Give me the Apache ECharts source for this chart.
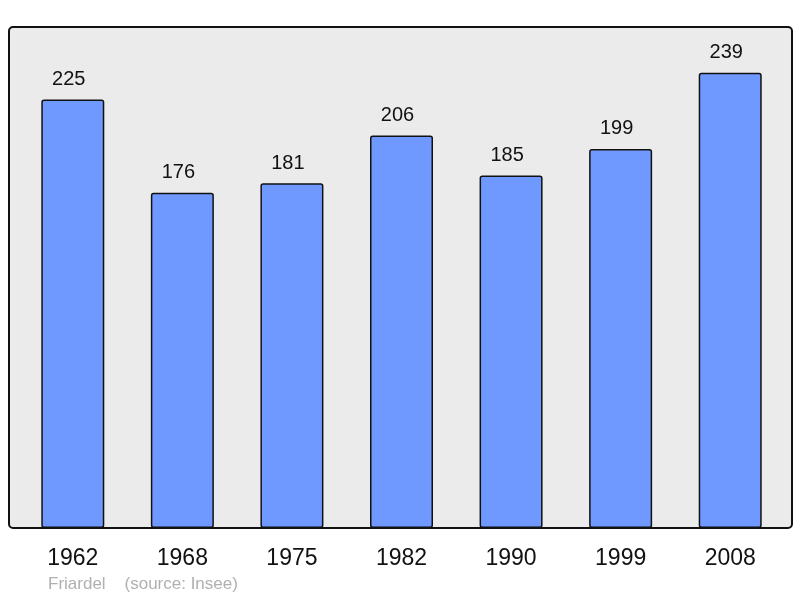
<!DOCTYPE html>
<html>
<head>
<meta charset="utf-8">
<script src="https://cdn.jsdelivr.net/npm/echarts@6/dist/echarts.min.js"></script>
<style>
  html, body { margin: 0; padding: 0; background: #fff; }
  #chart { width: 800px; height: 598px; }
</style>
</head>
<body>
<div id="chart"></div>
<script>
  // population by census year
  const years = ['1962', '1968', '1975', '1982', '1990', '1999', '2008'];
  const population = [225, 176, 181, 206, 185, 199, 239];
  const footer = 'Friardel    (source: Insee)';

  const myChart = echarts.init(document.getElementById('chart'));

  const option = {
    animation: false,
    textStyle: { fontFamily: 'Liberation Sans, Arial, sans-serif' },
    graphic: [
      {
        type: 'rect',
        z: -10,
        shape: { x: 9, y: 27, width: 783, height: 501, r: 4 },
        style: { fill: '#ebebeb', stroke: '#111', lineWidth: 2 }
      },
      {
        type: 'text',
        left: 48,
        top: 576,
        style: { text: footer, fill: '#b0b0b0', fontSize: 17, fontFamily: 'Liberation Sans, Arial, sans-serif' }
      }
    ],
    grid: { left: 18, right: 15, top: 27, bottom: 70 },
    xAxis: {
      type: 'category',
      data: years,
      axisLine: { show: false },
      axisTick: { show: false },
      axisLabel: { color: '#111', fontSize: 23, margin: 19 }
    },
    yAxis: {
      type: 'value',
      min: 0,
      max: 263,
      show: false,
      splitLine: { show: false }
    },
    series: [
      {
        type: 'bar',
        data: population,
        barWidth: 63,
        itemStyle: {
          color: '#7099ff',
          borderColor: '#111',
          borderWidth: 1.5,
          borderRadius: 2
        },
        label: {
          show: true,
          position: 'top',
          distance: 10,
          offset: [-4, 0],
          color: '#111',
          fontSize: 20
        }
      }
    ]
  };

  myChart.setOption(option);
</script>
</body>
</html>
